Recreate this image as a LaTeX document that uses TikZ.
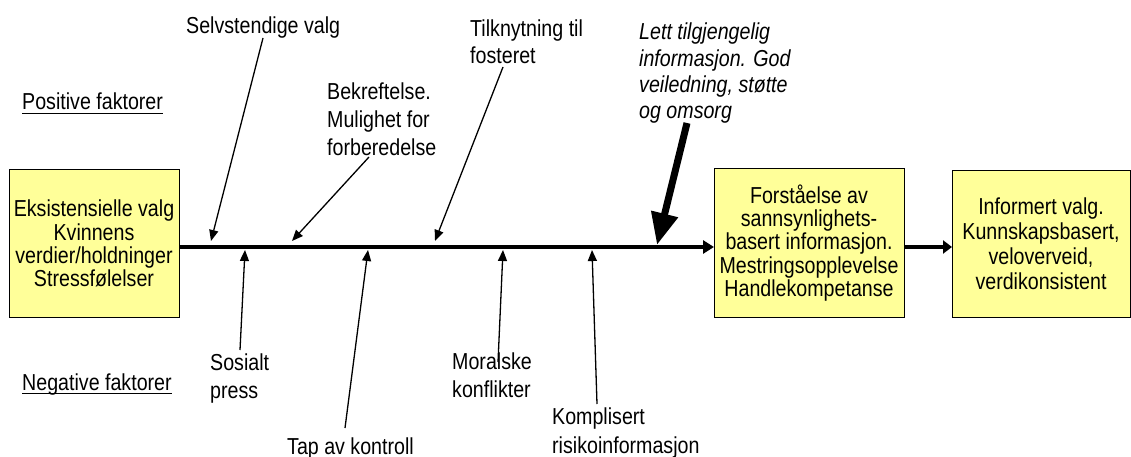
\documentclass[tikz,border=0pt]{standalone}
\usepackage{fontspec}
\setmainfont{Liberation Sans}[FakeStretch=0.85]
\usetikzlibrary{arrows.meta}
\definecolor{boxyellow}{HTML}{FFFF99}
\newcommand{\mylines}[1]{\begin{tabular}[t]{@{}l@{}}#1\end{tabular}}
\begin{document}
\begin{tikzpicture}[x=1pt,y=-1pt,
  txt/.style={inner sep=0pt, anchor=base west, font=\fontsize{23.1}{27.7}\selectfont},
  box/.style={draw=black, line width=1pt, fill=boxyellow, inner sep=0pt, align=center},
  thinarrow/.style={line width=1.3pt, -{Triangle[length=11pt,width=9pt]}},
  mainline/.style={line width=4.5pt},
  thickarrow/.style={line width=7pt, -{Triangle[length=32pt,width=26pt]}},
  uline/.style={line width=1.4pt}
]
\useasboundingbox (0,0) rectangle (1131,457);

% boxes
\node[box, minimum width=170pt, minimum height=147pt, font=\fontsize{23.1}{23.3}\selectfont] (b1) at (94,243.5)
  {Eksistensielle valg\\Kvinnens\\verdier/holdninger\\Stressfølelser};
\node[box, minimum width=190pt, minimum height=148pt, font=\fontsize{23.1}{23.3}\selectfont] (b2) at (809,243)
  {Forståelse av\\sannsynlighets-\\basert informasjon.\\Mestringsopplevelse\\Handlekompetanse};
\node[box, minimum width=178pt, minimum height=146pt, font=\fontsize{23.1}{25}\selectfont] (b3) at (1041,244)
  {Informert valg.\\Kunnskapsbasert,\\veloverveid,\\verdikonsistent};

% main line
\coordinate (m1) at (179,247);
\coordinate (m2) at (714,247);
\coordinate (m3) at (904,247);
\coordinate (m4) at (952,247);
\draw[mainline, -{Triangle[length=11pt,width=13pt]}] (m1) -- (m2);
\draw[mainline, -{Triangle[length=9pt,width=13pt]}] (m3) -- (m4);

% side labels
\node[txt] (pos) at (22,110) {Positive faktorer};
\node[txt] (neg) at (22,390) {Negative faktorer};
\draw[uline] ([yshift=-3.5pt]pos.base west) -- ([yshift=-3.5pt]pos.base east);
\draw[uline] ([yshift=-3.5pt]neg.base west) -- ([yshift=-3.5pt]neg.base east);

% positive factors
\node[txt] (selv) at (186,34) {Selvstendige valg};
\node[txt] (bekr) at (327,100) {\mylines{Bekreftelse.\\Mulighet for\\forberedelse}};
\node[txt] (tilk) at (470,37) {\fontsize{23.1}{27}\selectfont\mylines{Tilknytning til\\fosteret}};
\node[txt] (lett) at (639,40) {\fontsize{23.1}{26.3}\selectfont\itshape\mylines{Lett tilgjengelig\\informasjon. God\\veiledning, støtte\\og omsorg}};

\coordinate (s1) at (263,38);  \coordinate (t1) at (211,241);
\coordinate (s2) at (369,157); \coordinate (t2) at (292,241);
\coordinate (s3) at (503,67);  \coordinate (t3) at (435,241);
\coordinate (s4) at (687,123); \coordinate (t4) at (657,245);
\draw[thinarrow] (s1) -- (t1);
\draw[thinarrow] (s2) -- (t2);
\draw[thinarrow] (s3) -- (t3);
\draw[thickarrow] (s4) -- (t4);

% negative factors
\node[txt] (sos) at (210,370) {\fontsize{23.1}{28}\selectfont\mylines{Sosialt\\press}};
\node[txt] (tap) at (287,454) {Tap av kontroll};
\node[txt] (mor) at (452,369) {\fontsize{23.1}{28}\selectfont\mylines{Moralske\\konflikter}};
\node[txt] (kom) at (552,424) {\fontsize{23.1}{29}\selectfont\mylines{Komplisert\\risikoinformasjon}};

\coordinate (u1) at (240,350); \coordinate (v1) at (245,250);
\coordinate (u2) at (345,428); \coordinate (v2) at (368,250);
\coordinate (u3) at (498,362); \coordinate (v3) at (503,250);
\coordinate (u4) at (597,404); \coordinate (v4) at (592,250);
\draw[thinarrow] (u1) -- (v1);
\draw[thinarrow] (u2) -- (v2);
\draw[thinarrow] (u3) -- (v3);
\draw[thinarrow] (u4) -- (v4);
\end{tikzpicture}
\end{document}
